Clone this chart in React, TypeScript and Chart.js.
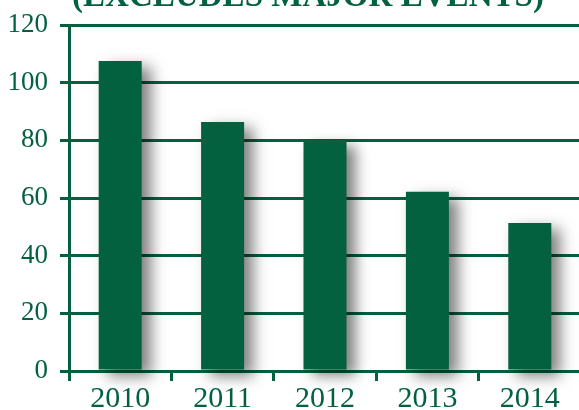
import React, { useEffect, useRef } from "react";
import { Chart, registerables } from "chart.js";

Chart.register(...registerables);

const categories = ["2010", "2011", "2012", "2013", "2014"];
const values = [107.5, 86.4, 80.1, 62.2, 51.3];
const titleText = "(EXCLUDES MAJOR EVENTS)";
const yMin = 0;
const yMax = 120;
const yStep = 20;

const GREEN = "#03613F";

const shadowPlugin = {
  id: "barShadow",
  beforeDatasetsDraw(chart: any) {
    const ctx = chart.ctx;
    ctx.save();
    ctx.shadowColor = "rgba(0,0,0,0.5)";
    ctx.shadowBlur = 14;
    ctx.shadowOffsetX = 9;
    ctx.shadowOffsetY = 6;
  },
  afterDatasetsDraw(chart: any) {
    chart.ctx.restore();
  },
};

const titlePlugin = {
  id: "cutTitle",
  afterDraw(chart: any) {
    const ctx = chart.ctx;
    ctx.save();
    let size = 34;
    ctx.font = `bold ${size}px "Liberation Serif", serif`;
    const w = ctx.measureText(titleText).width;
    size = (size * 472) / w;
    ctx.font = `bold ${size}px "Liberation Serif", serif`;
    ctx.fillStyle = GREEN;
    ctx.textAlign = "center";
    ctx.textBaseline = "alphabetic";
    ctx.fillText(titleText, 308, 30 + 6);
    ctx.restore();
  },
};

export default function App() {
  const ref = useRef<HTMLCanvasElement>(null);
  useEffect(() => {
    if (!ref.current) return;
    const chart = new Chart(ref.current, {
      type: "bar",
      data: {
        labels: categories,
        datasets: [
          {
            data: values,
            backgroundColor: GREEN,
            borderWidth: 0,
            barPercentage: 0.42,
            categoryPercentage: 1,
            clip: false,
          } as any,
        ],
      },
      options: {
        animation: false,
        responsive: true,
        maintainAspectRatio: false,
        layout: { padding: { top: 55, right: 9, left: 0, bottom: 0 } },
        plugins: { legend: { display: false }, tooltip: { enabled: false }, title: { display: false } },
        scales: {
          x: {
            afterFit(scale: any) {
              scale.height = 39;
            },
            grid: {
              display: true,
              drawOnChartArea: false,
              drawTicks: true,
              tickLength: 10,
              color: GREEN,
              lineWidth: 3,
            },
            border: { display: true, color: GREEN, width: 3 },
            ticks: {
              color: GREEN,
              font: { family: '"Liberation Serif", serif', size: 30, lineHeight: 1 },
              padding: 3,
              maxRotation: 0,
            },
          },
          y: {
            min: yMin,
            max: yMax,
            afterFit(scale: any) {
              scale.width = 69;
            },
            grid: {
              display: true,
              drawOnChartArea: true,
              drawTicks: true,
              tickLength: 9,
              color: GREEN,
              lineWidth: 3,
            },
            border: { display: true, color: GREEN, width: 3 },
            ticks: {
              stepSize: yStep,
              color: GREEN,
              font: { family: '"Liberation Serif", serif', size: 27 },
              padding: 12,
            },
          },
        },
      },
      plugins: [shadowPlugin, titlePlugin],
    });
    return () => chart.destroy();
  }, []);
  return (
    <div style={{ position: "fixed", left: 0, top: 0, width: 579, height: 410, overflow: "hidden", background: "#fff" }}>
      <div style={{ position: "absolute", left: 0, top: -30, width: 590, height: 440 }}>
        <canvas ref={ref} />
      </div>
    </div>
  );
}
